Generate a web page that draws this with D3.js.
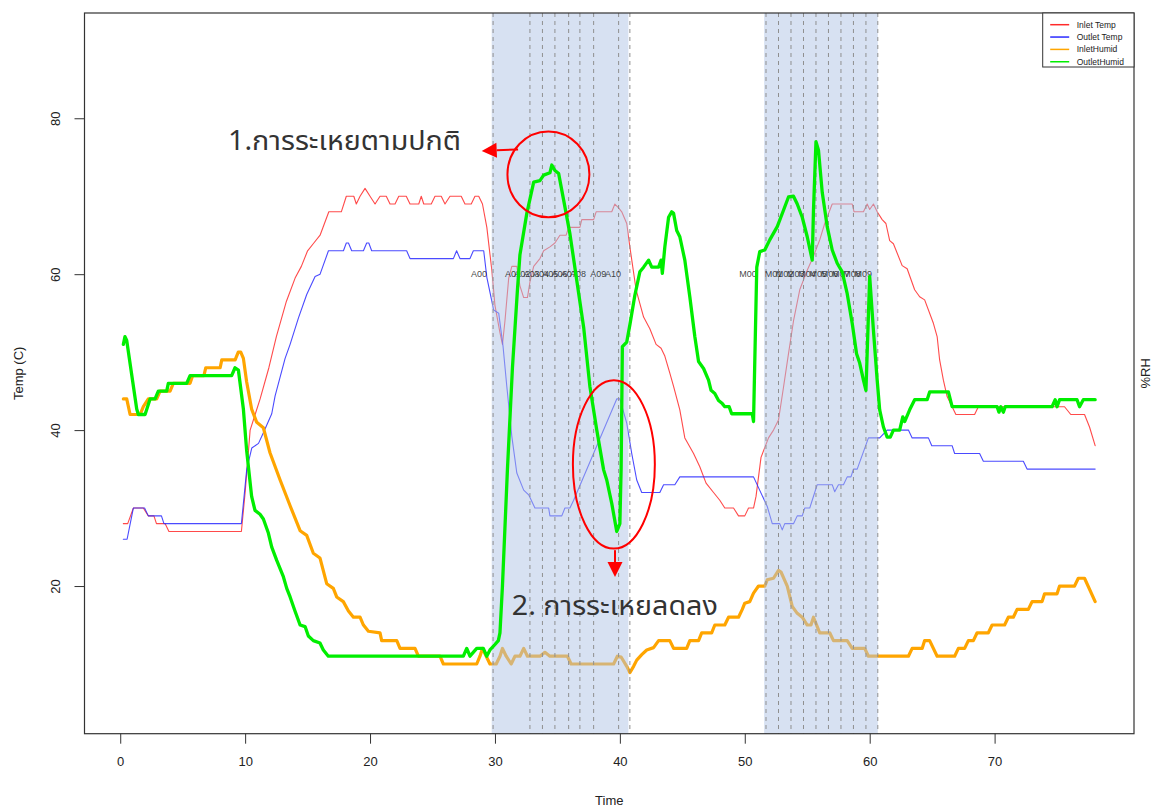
<!DOCTYPE html>
<html>
<head>
<meta charset="utf-8">
<script src="https://cdn.jsdelivr.net/npm/d3@7"></script>
<style>
  body { margin: 0; background: #fff; }
  svg { display: block; font-family: "Liberation Sans", Arial, sans-serif; }
</style>
</head>
<body>
<svg id="chart" width="1152" height="808"></svg>
<script>
'use strict';

// ── Data: [time, value] ───────────────────────────────────────────────────
const inletTemp = [
  [0.25,28],[0.6,28],[1.05,30],[1.85,30],[2.25,29],[2.7,29],[2.9,28],[3.6,28],[3.9,27],[9.7,27],
  [10.0,32],[10.4,40],[10.8,42],[11.2,44],[11.9,48],[12.5,52],[13.3,56.5],[14.0,59.5],[14.5,61],
  [15.0,63],[15.5,64],[16.0,65],[16.7,68],[17.7,68],[18.1,70],[18.7,70],[18.9,69],[19.2,70],
  [19.6,71],[20.0,70],[20.4,69],[20.8,70],[21.3,70],[21.6,69],[22.0,69],[22.3,70],[22.9,70],
  [23.2,69],[23.9,69],[24.1,70],[24.3,69],[24.9,69],[25.2,70],[25.7,70],[26.0,69],[26.4,70],
  [27.3,70],[27.6,69],[28.1,69],[28.4,70],[28.7,70],[29.0,69],[29.35,66],[29.75,60.5],[30.0,56],
  [30.4,52.5],[30.6,51],[30.8,54],[31.1,59.5],[31.35,61],[31.75,61],[32.0,58.5],[32.3,57],
  [32.6,57],[32.8,59],[33.1,61],[33.6,62],[33.9,63],[34.4,63.5],[34.8,64],[35.2,65],[35.7,65],
  [35.9,66],[36.8,66],[36.95,67],[37.9,67],[38.1,68],[39.35,68],[39.6,69],[39.9,68.5],[40.15,68],
  [40.55,66.5],[40.8,63.5],[41.3,58],[41.9,54.5],[42.4,53],[42.9,51],[43.3,50.5],[43.6,49.5],
  [44.0,47.3],[44.3,45.6],[44.8,42.6],[45.2,39],[45.9,37],[46.4,35.3],[46.9,33.2],[47.5,32],
  [48.0,31],[48.4,30],[49.1,30],[49.5,29],[50.0,29],[50.3,30],[50.7,30],[50.9,31.5],[51.3,36.5],
  [51.9,39],[52.3,40],[52.7,41.3],[53.1,45.5],[53.5,49.8],[53.9,54],[54.4,58],[55.0,60.5],
  [55.5,62.3],[56.0,64.4],[56.4,66.5],[57.0,69],[58.6,69],[58.75,68],[59.5,68],[59.8,69],
  [60.0,68.3],[60.3,69],[60.6,68],[61.0,67],[61.3,66.5],[61.6,64.3],[61.9,63.9],[62.6,61.1],
  [63.0,60.7],[63.6,58],[64.0,57.1],[64.4,56.7],[65.1,53.7],[65.4,52],[65.6,49],[65.9,46.4],
  [66.2,44.3],[66.6,43],[66.9,42],[68.4,42],[68.7,43],[75.6,43],[76.1,42],[77.2,42],[77.6,40.4],
  [78.05,38]
];

const outletTemp = [
  [0.25,26],[0.55,26],[1.05,30],[1.95,30],[2.25,29],[3.3,29],[3.5,28],[9.7,28],[10.13,35],
  [10.53,37.7],[11.07,38.3],[11.47,39.7],[12.13,42.1],[12.4,44.4],[12.8,46.8],[13.2,49.2],
  [13.6,51],[14.27,54.4],[14.93,57.4],[15.6,59.7],[16.0,60],[16.67,63],[17.87,63],[18.1,64],
  [18.27,64],[18.53,63],[19.47,63],[19.73,64],[19.9,64],[20.13,63],[22.93,63],[23.2,62],
  [26.67,62],[26.93,63],[27.2,62],[28.0,62],[28.27,63],[29.1,63],[29.35,59.6],[29.9,55.4],
  [30.3,55],[30.65,50.7],[30.95,45.6],[31.35,39.2],[31.75,34.5],[32.3,32.3],[32.7,31.7],
  [33.2,30],[34.3,30],[34.4,29],[35.35,29],[35.6,30],[36.0,30],[36.3,31],[39.75,44],[40.0,44],
  [40.55,40.9],[40.95,37],[41.35,33.6],[41.75,32],[43.2,32],[43.5,33],[44.4,33],[44.8,34],
  [50.7,34],[51.8,30.2],[52.2,28],[52.8,28],[53.0,27.2],[53.2,28],[53.9,28],[54.2,29],[54.6,29],
  [54.8,30],[55.2,30],[55.4,31],[55.8,33],[57.0,33],[57.2,32.1],[57.5,33],[57.9,33],[58.2,34],
  [58.5,34],[58.7,35],[59.0,35],[59.9,39],[60.8,39],[61.4,40],[63.1,40],[63.4,39],[64.7,39],
  [64.97,38],[66.6,38],[66.8,37],[68.8,37],[69.1,36],[72.3,36],[72.6,35],[78.05,35]
];

const inletHumid = [
  [0.25,44],[0.52,44],[0.79,42],[1.59,42],[1.85,43],[2.25,44],[2.92,44],[3.19,45],[3.99,45],
  [4.25,46],[5.59,46],[5.8,47],[6.7,47],[6.85,48],[8.0,48],[8.13,49],[9.2,49],[9.45,50],
  [9.65,50],[9.86,49.2],[10.12,46.2],[10.52,42.7],[10.93,41],[11.46,40.3],[11.99,37.1],
  [12.8,33.6],[13.6,30.3],[14.4,27.1],[14.93,26.5],[15.46,24.2],[15.99,23.6],[16.53,20.3],
  [17.06,19.7],[17.33,18.6],[17.86,18],[18.27,16.8],[18.67,16],[19.2,16],[19.47,15],[19.87,14.2],
  [20.8,14],[20.93,13],[22.14,13],[22.4,12],[23.6,12],[23.87,11],[25.6,11],[25.87,10],[28.54,10],
  [28.8,11],[29.0,12],[29.3,11],[29.6,10],[30.1,10],[30.4,11],[30.6,12],[30.9,11],[31.3,10],
  [31.6,11],[32.0,11],[32.3,12],[32.6,11],[33.6,11],[34.0,11.5],[34.4,11],[35.8,11],[36.1,10],
  [39.5,10],[39.8,11],[40.1,10.9],[40.55,9.7],[40.8,8.9],[41.1,9.7],[41.35,10.5],[41.75,11.2],
  [42.15,11.8],[42.7,12.1],[43.1,13],[44.0,13],[44.3,12],[45.35,12],[45.6,13],[46.3,13],
  [46.55,14],[47.35,14],[47.6,15],[48.4,15],[48.7,16],[49.5,16],[49.8,17],[50.0,17.8],[50.4,18],
  [50.7,19.1],[51.1,20],[51.6,20],[51.8,20.8],[52.3,21],[52.7,22],[52.9,21.8],[53.4,20],
  [53.8,17.4],[54.2,16.5],[54.6,16],[55.0,15],[55.3,15],[55.5,16],[55.8,14.8],[56.0,14],
  [56.8,14],[57.1,13],[58.2,13],[58.6,12],[59.6,12],[59.9,11],[63.1,11],[63.4,12],[64.2,12],
  [64.4,13],[64.8,13],[65.4,11],[66.8,11],[67.1,12],[67.6,12],[67.9,13],[68.3,13],[68.6,14],
  [69.5,14],[69.8,15],[70.8,15],[71.1,16],[71.5,16],[71.8,17],[72.7,17],[73.0,18],[73.8,18],
  [74.0,19],[75.0,19],[75.2,20],[76.4,20],[76.7,21],[77.2,21],[78.05,18]
];

const outletHumid = [
  [0.25,51],[0.38,52],[0.52,51.5],[1.32,42.7],[1.45,42],[1.99,42],[2.39,44],[2.79,44],[3.05,45],
  [3.72,45],[3.85,46],[5.32,46],[5.59,47],[8.92,47],[9.19,48],[9.46,47.7],[9.86,42.7],
  [10.12,37.4],[10.52,31.5],[10.79,29.7],[11.19,29.2],[11.46,28.6],[11.86,26.8],[12.13,25],
  [12.53,23.3],[13.06,21.2],[13.33,19.7],[13.6,18.6],[13.99,16.8],[14.4,15],[14.8,14.8],
  [15.06,13.6],[15.46,13],[15.99,12.7],[16.26,11.8],[16.66,11],[27.47,11],[27.74,12],[28.0,11],
  [28.54,12],[29.07,12],[29.34,11],[29.6,11.8],[30.0,12.5],[30.27,13],[30.4,14],[30.6,20],
  [31.0,35],[31.4,48],[31.8,58],[32.0,62.5],[32.55,67.8],[33.1,71.8],[33.6,72],[33.9,72.7],
  [34.4,73],[34.55,74],[34.8,73.3],[35.1,72.9],[35.5,69.5],[36.0,65.2],[36.55,59.2],[37.1,53.2],
  [37.6,45.6],[38.15,40],[38.7,34.9],[38.95,33.6],[39.35,30.6],[39.75,27],[40.0,28],[40.1,35],
  [40.2,50.7],[40.55,51.3],[40.8,53.5],[41.2,57.3],[41.6,60.3],[41.9,60.9],[42.3,61.8],
  [42.55,60.9],[43.1,60.9],[43.3,61.8],[43.4,60.1],[43.6,63.5],[43.9,67.3],[44.15,68],[44.3,67.8],
  [44.55,65.6],[44.8,64.8],[45.2,61.8],[45.6,57.1],[46.0,52],[46.3,48.8],[46.7,47.9],[47.1,46.4],
  [47.3,45.1],[47.6,44.7],[47.9,43.8],[48.2,43.4],[48.4,43],[48.75,43],[48.95,42.1],[50.6,42.1],
  [50.7,41.1],[50.96,60.9],[51.2,62.9],[51.6,63.1],[52.0,64.4],[52.6,66.1],[53.1,68.2],
  [53.5,69.9],[53.9,70],[54.2,69],[54.6,67.3],[55.0,64.8],[55.4,61.8],[55.5,68.2],[55.7,77],
  [55.9,75.9],[56.2,70.5],[56.6,66.1],[57.0,63.1],[57.4,61.4],[57.8,60.3],[58.2,57.5],
  [58.6,53.7],[58.95,49.8],[59.2,48.6],[59.5,46.4],[59.7,45.1],[60.0,59.7],[60.3,52.8],
  [60.6,46.4],[60.8,42.6],[61.1,40.4],[61.4,39.1],[61.65,39.1],[61.9,40],[62.4,40],[62.65,41.7],
  [62.8,41.1],[63.2,42.6],[63.6,43.9],[64.6,43.9],[64.8,44.9],[66.3,44.9],[66.6,43],[70.2,43],
  [70.35,42.3],[70.5,43],[70.7,42.3],[70.85,43],[74.6,43],[74.85,43.9],[75.0,43],[75.2,43.9],
  [76.6,43.9],[76.8,43],[77.1,43.9],[78.05,43.9]
];

// shaded test windows [start, end] and the dashed event lines inside them
const shadeWindows = [[29.74, 40.68], [51.55, 60.65]];
const eventLines = [29.85, 32.8, 33.8, 34.8, 35.9, 36.8, 37.9, 39.9, 40.8,
                    51.7, 52.7, 53.7, 54.7, 55.7, 56.7, 57.7, 58.7, 59.7, 60.65];

const eventNames = ['A00','A01','A02','A03','A04','A05','A06','A07','A08','A09','A10',
                    'M00','M01','M02','M03','M04','M05','M06','M07','M08','M09'];
const eventTimes = [28.73, 31.44, 32.19, 32.93, 33.68, 34.42, 35.16, 35.91, 36.65, 38.26, 39.45,
                    50.26, 52.3, 53.18, 54.08, 54.98, 55.88, 56.78, 57.68, 58.58, 59.48];
const EVENT_LEVEL = 60;

const xTicks = [0, 10, 20, 30, 40, 50, 60, 70];
const yTicks = [20, 40, 60, 80];

const seriesNames = ['Inlet Temp', 'Outlet Temp', 'InletHumid', 'OutletHumid'];
const seriesColors = ['#ff2a2a', '#2a2aff', '#ffa500', '#00ee00'];

// R-style axis ranges (data range + 4%)
const X_DOMAIN = [-2.86, 81.16];
const Y_DOMAIN = [1.06, 93.5];

// ── Layout ────────────────────────────────────────────────────────────────
const plot = { left: 84.5, right: 1134, top: 13, bottom: 733.7 };
const svg = d3.select('#chart');
svg.append('rect').attr('width', 1152).attr('height', 808).attr('fill', '#fff');

const x = d3.scaleLinear().domain(X_DOMAIN).range([plot.left, plot.right]);
const y = d3.scaleLinear().domain(Y_DOMAIN).range([plot.bottom, plot.top]);

const line = d3.line().x(d => x(d[0])).y(d => y(d[1]));

function drawSeries(data, color, width, opacity) {
  svg.append('path')
    .datum(data)
    .attr('d', line)
    .attr('fill', 'none')
    .attr('stroke', color)
    .attr('stroke-width', width)
    .attr('stroke-opacity', opacity)
    .attr('stroke-linejoin', 'round')
    .attr('stroke-linecap', 'round');
}

// temps + inlet humidity sit under the shading
drawSeries(inletTemp, seriesColors[0], 1.1, 0.85);
drawSeries(outletTemp, seriesColors[1], 1.1, 0.85);
drawSeries(inletHumid, seriesColors[2], 3.2, 1);

// ── Shaded windows + dashed event lines ─────────────────────────────────
svg.selectAll('.shade')
  .data(shadeWindows)
  .enter()
  .append('rect')
  .attr('x', d => x(d[0]))
  .attr('width', d => x(d[1]) - x(d[0]))
  .attr('y', plot.top)
  .attr('height', plot.bottom - plot.top)
  .attr('fill', 'rgb(176,196,230)')
  .attr('opacity', 0.5);

svg.selectAll('.evline')
  .data(eventLines)
  .enter()
  .append('line')
  .attr('x1', d => x(d)).attr('x2', d => x(d))
  .attr('y1', plot.top).attr('y2', plot.bottom)
  .attr('stroke', '#8f8f8f')
  .attr('stroke-width', 1)
  .attr('stroke-dasharray', '4,4');

svg.selectAll('.evlabel')
  .data(eventNames)
  .enter()
  .append('text')
  .attr('x', (d, i) => x(eventTimes[i]))
  .attr('y', y(EVENT_LEVEL))
  .attr('dy', '0.35em')
  .attr('text-anchor', 'middle')
  .attr('font-size', 9)
  .attr('fill', '#222')
  .attr('fill-opacity', 0.85)
  .text(d => d);

drawSeries(outletHumid, seriesColors[3], 3.3, 1);

// ── Box + axes ───────────────────────────────────────────────────────────
svg.append('rect')
  .attr('x', plot.left).attr('y', plot.top)
  .attr('width', plot.right - plot.left).attr('height', plot.bottom - plot.top)
  .attr('fill', 'none').attr('stroke', '#333').attr('stroke-width', 1.2);

svg.append('g')
  .attr('transform', `translate(0,${plot.bottom})`)
  .call(d3.axisBottom(x).tickValues(xTicks).tickSize(10).tickPadding(13))
  .call(ax => ax.select('.domain').remove())
  .call(ax => ax.selectAll('.tick line').attr('stroke', '#333'))
  .call(ax => ax.selectAll('.tick text').attr('font-size', 13).attr('fill', '#222')
    .attr('font-family', '"Liberation Sans", Arial, sans-serif'));

svg.append('g')
  .attr('transform', `translate(${plot.left},0)`)
  .call(d3.axisLeft(y).tickValues(yTicks).tickSize(10))
  .call(ax => ax.select('.domain').remove())
  .call(ax => ax.selectAll('.tick line').attr('stroke', '#333'))
  .call(ax => ax.selectAll('.tick text')
    .attr('x', null).attr('dy', null)
    .attr('transform', `translate(${55 - plot.left},0) rotate(-90)`)
    .attr('text-anchor', 'middle')
    .attr('dominant-baseline', 'central')
    .attr('font-size', 13).attr('fill', '#222')
    .attr('font-family', '"Liberation Sans", Arial, sans-serif'));

svg.append('text')
  .attr('transform', `translate(18,${(plot.top + plot.bottom) / 2}) rotate(-90)`)
  .attr('text-anchor', 'middle').attr('dominant-baseline', 'central')
  .attr('font-size', 13).attr('fill', '#222')
  .text('Temp (C)');

svg.append('text')
  .attr('x', (plot.left + plot.right) / 2).attr('y', 800)
  .attr('text-anchor', 'middle').attr('dominant-baseline', 'central')
  .attr('font-size', 13).attr('fill', '#222')
  .text('Time');

svg.append('text')
  .attr('transform', `translate(1145,${(plot.top + plot.bottom) / 2}) rotate(-90)`)
  .attr('text-anchor', 'middle').attr('dominant-baseline', 'central')
  .attr('font-size', 13).attr('fill', '#222')
  .text('%RH');

// ── Legend (top right, inset 0) ─────────────────────────────────────────
const lg = svg.append('g').attr('transform', `translate(${plot.right - 91.3},${plot.top})`);
lg.append('rect').attr('width', 91.3).attr('height', 54)
  .attr('fill', '#fff').attr('stroke', '#333').attr('stroke-width', 1);
seriesNames.forEach((name, i) => {
  const ly = 11.7 + i * 12.35;
  lg.append('line').attr('x1', 7.5).attr('x2', 26.5).attr('y1', ly).attr('y2', ly)
    .attr('stroke', seriesColors[i]).attr('stroke-width', 1.5);
  lg.append('text').attr('x', 34).attr('y', ly).attr('dy', '0.35em')
    .attr('font-size', 8.5).attr('fill', '#222').text(name);
});

// ── Annotations ──────────────────────────────────────────────────────────
const ANN = '#ff0000';
const thaiFont = '"Noto Sans Thai", "Noto Sans", "DejaVu Sans", sans-serif';

svg.append('ellipse')
  .attr('cx', x(34.28)).attr('cy', y(72.8))
  .attr('rx', x(34.28 + 3.28) - x(34.28)).attr('ry', y(72.8) - y(78.3))
  .attr('fill', 'none').attr('stroke', ANN).attr('stroke-width', 2);

svg.append('ellipse')
  .attr('cx', x(39.52)).attr('cy', y(35.6))
  .attr('rx', x(39.52 + 3.28) - x(39.52)).attr('ry', y(35.6) - y(46.4))
  .attr('fill', 'none').attr('stroke', ANN).attr('stroke-width', 2);

function arrow(x1, y1, x2, y2) {
  const ang = Math.atan2(y2 - y1, x2 - x1);
  const hl = 15, hw = 7.5;
  const bx = x2 - hl * Math.cos(ang), by = y2 - hl * Math.sin(ang);
  svg.append('line').attr('x1', x1).attr('y1', y1).attr('x2', bx).attr('y2', by)
    .attr('stroke', ANN).attr('stroke-width', 2);
  const px = -Math.sin(ang) * hw, py = Math.cos(ang) * hw;
  svg.append('path')
    .attr('d', `M${x2},${y2}L${bx + px},${by + py}L${bx - px},${by - py}Z`)
    .attr('fill', ANN);
}
arrow(x(31.85), y(76.0), x(28.94), y(75.8));
arrow(x(39.61), y(24.6), x(39.61), y(21.15));

svg.append('text')
  .attr('x', x(8.63)).attr('y', y(75.9))
  .attr('font-family', thaiFont).attr('font-size', 27).attr('fill', '#333')
  .attr('textLength', 233).attr('lengthAdjust', 'spacingAndGlyphs')
  .text('1.การระเหยตามปกติ');

svg.append('text')
  .attr('x', x(31.35)).attr('y', y(16.28))
  .attr('font-family', thaiFont).attr('font-size', 27).attr('fill', '#333')
  .attr('textLength', 206).attr('lengthAdjust', 'spacingAndGlyphs')
  .text('2. การระเหยลดลง');
</script>
</body>
</html>
